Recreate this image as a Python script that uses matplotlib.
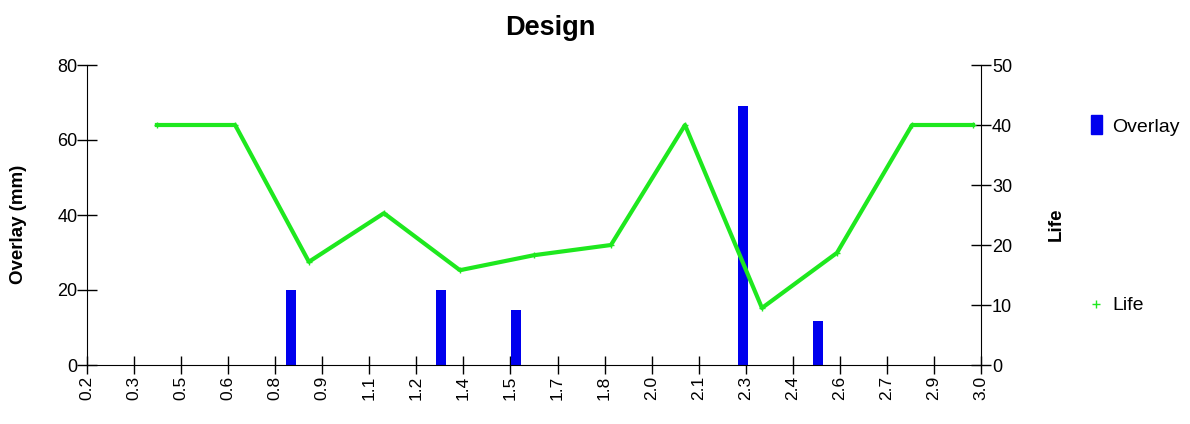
import matplotlib
matplotlib.use("Agg")
import matplotlib.pyplot as plt
import numpy as np
from matplotlib.patches import Rectangle
from matplotlib.lines import Line2D

plt.rcParams['font.family'] = ['Liberation Sans', 'DejaVu Sans']

# --- data -------------------------------------------------------------
x_range = (0.2, 3.0)
x_tick_labels = ['0.2', '0.3', '0.5', '0.6', '0.8', '0.9', '1.1', '1.2', '1.4', '1.5',
                 '1.7', '1.8', '2.0', '2.1', '2.3', '2.4', '2.6', '2.7', '2.9', '3.0']

overlay_x = [0.839, 1.309, 1.544, 2.254, 2.489]
overlay_mm = [20, 20, 14.7, 69, 11.7]

life_x = [0.419, 0.664, 0.895, 1.130, 1.368, 1.600, 1.841, 2.073, 2.314, 2.549, 2.784, 2.975]
life = [40, 40, 17.2, 25.3, 15.8, 18.3, 20, 40, 9.5, 18.7, 40, 40]

overlay_ticks = [0, 20, 40, 60, 80]
life_ticks = [0, 10, 20, 30, 40, 50]

BLUE = '#0000ee'
GREEN = '#1ee81e'

W, H = 1190, 424
fig = plt.figure(figsize=(W / 100, H / 100), dpi=100)
ax = fig.add_axes([87 / W, 59 / H, 894 / W, 300 / H])

# Overlay bars on the left axis
ax.bar(overlay_x, overlay_mm, width=0.031, color=BLUE, zorder=2)
ax.set_xlim(*x_range)
ax.set_ylim(overlay_ticks[0], overlay_ticks[-1])
ax.set_yticks(overlay_ticks)
ax.set_xticks(np.linspace(x_range[0], x_range[1], len(x_tick_labels)))
ax.set_xticklabels(x_tick_labels, rotation=90)
ax.tick_params(axis='y', direction='inout', length=14, width=1, labelsize=13, pad=0)
ax.tick_params(axis='x', direction='inout', length=13, width=1, labelsize=12.5, pad=1)
for side in ('top', 'right'):
    ax.spines[side].set_visible(False)

# Life line on the right axis
ax2 = ax.twinx()
ax2.plot(life_x, life, color=GREEN, lw=3, marker='+', ms=5, mew=1, zorder=3)
ax2.set_ylim(life_ticks[0], life_ticks[-1])
ax2.set_yticks(life_ticks)
ax2.tick_params(axis='y', direction='inout', length=14, width=1, labelsize=13, pad=1)
for side in ('top', 'left', 'bottom'):
    ax2.spines[side].set_visible(False)

# Titles and axis labels
fig.text(550 / W, 1 - 28 / H, 'Design', ha='center', va='center',
         fontsize=19.5, fontweight='bold')
fig.text(19 / W, 1 - 224 / H, 'Overlay (mm)', rotation=90, ha='center', va='center',
         fontsize=13.5, fontweight='bold')
fig.text(1056 / W, 1 - 224 / H, 'Life', rotation=90, ha='center', va='center',
         fontsize=13.5, fontweight='bold')

# Legend entries
fig.add_artist(Rectangle((1091 / W, 1 - 134 / H), 11 / W, 19 / H,
                         transform=fig.transFigure, color=BLUE))
fig.text(1112 / W, 1 - 127 / H, 'Overlay', ha='left', va='center', fontsize=14)
fig.add_artist(Line2D([1096 / W], [1 - 304 / H], marker='+', color=GREEN, ms=6, mew=1,
                      transform=fig.transFigure))
fig.text(1112 / W, 1 - 305 / H, 'Life', ha='left', va='center', fontsize=14)

fig.savefig('out.png', dpi=100)
